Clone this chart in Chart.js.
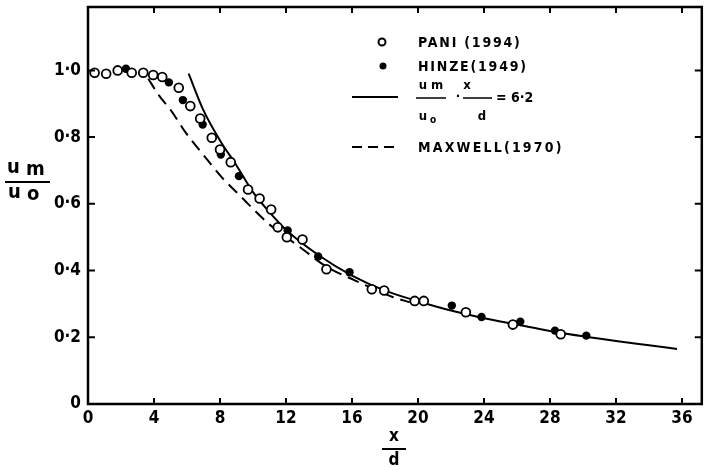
<!DOCTYPE html>
<html>
<head>
<meta charset="utf-8">
<script src="https://cdn.jsdelivr.net/npm/chart.js@4.4.1/dist/chart.umd.min.js"></script>
<style>
  body { margin: 0; background: #fff; }
  #wrap { width: 708px; height: 470px; }
</style>
</head>
<body>
<div id="wrap"><canvas id="myChart" width="708" height="470"></canvas></div>
<script>
var paniX = [0.4, 1.1, 1.8, 2.65, 3.35, 3.95, 4.5, 5.5, 6.2, 6.8, 7.5, 8.0, 8.65, 9.7, 10.4, 11.1, 11.5, 12.05, 13.0, 14.45, 17.2, 17.95, 19.8, 20.35, 22.9, 25.75, 28.65];
var paniY = [0.993, 0.99, 1.0, 0.993, 0.993, 0.986, 0.98, 0.948, 0.893, 0.856, 0.798, 0.763, 0.725, 0.643, 0.616, 0.583, 0.53, 0.5, 0.493, 0.404, 0.344, 0.34, 0.309, 0.309, 0.275, 0.238, 0.209];
var hinzeX = [2.3, 4.9, 5.75, 6.95, 8.05, 9.15, 12.1, 13.95, 15.85, 22.05, 23.85, 26.2, 28.3, 30.2];
var hinzeY = [1.005, 0.964, 0.911, 0.838, 0.748, 0.683, 0.52, 0.442, 0.395, 0.295, 0.261, 0.247, 0.22, 0.205];
var fitX = [6.1, 7, 8, 9, 10, 11, 12, 14, 16, 18, 20, 22, 24, 26, 28, 30, 32, 34, 35.7];
var fitY = [0.99, 0.88, 0.79, 0.715, 0.635, 0.575, 0.522, 0.445, 0.385, 0.34, 0.308, 0.28, 0.257, 0.238, 0.219, 0.203, 0.189, 0.176, 0.165];
var maxX = [3.65, 4.3, 5.1, 5.9, 7.1, 8.1, 9.2, 10.0, 10.95, 12.85, 14.5, 16.2, 17.3, 18.5, 19.5];
var maxY = [0.975, 0.925, 0.875, 0.815, 0.74, 0.68, 0.625, 0.585, 0.54, 0.47, 0.41, 0.37, 0.345, 0.32, 0.305];

var xTicks = [0, 4, 8, 12, 16, 20, 24, 28, 32, 36];
var yTicks = [0, 0.2, 0.4, 0.6, 0.8, 1.0];
var yTickLabels = ["0", "0·2", "0·4", "0·6", "0·8", "1·0"];

var FONT = '"DejaVu Sans Condensed", "DejaVu Sans", sans-serif';

function pts(xs, ys) {
  return xs.map(function (x, i) { return { x: x, y: ys[i] }; });
}

function bold(size) { return "bold " + size + "px " + FONT; }

// frame, inner ticks, legend and axis titles
var decor = {
  id: "decor",
  afterDatasetsDraw: function (chart) {
    var ctx = chart.ctx;
    var a = chart.chartArea;
    var xs = chart.scales.x, ys = chart.scales.y;
    ctx.save();
    ctx.strokeStyle = "#000";
    ctx.fillStyle = "#000";
    ctx.lineWidth = 2.5;
    ctx.strokeRect(a.left, a.top, a.right - a.left, a.bottom - a.top);

    ctx.lineWidth = 2;
    xTicks.forEach(function (v) {
      if (v == 0) return;
      var px = xs.getPixelForValue(v);
      ctx.beginPath();
      ctx.moveTo(px, a.bottom); ctx.lineTo(px, a.bottom - 6);
      ctx.moveTo(px, a.top); ctx.lineTo(px, a.top + 6);
      ctx.stroke();
    });
    yTicks.forEach(function (v) {
      if (v == 0) return;
      var py = ys.getPixelForValue(v);
      ctx.beginPath();
      ctx.moveTo(a.left, py); ctx.lineTo(a.left + 7, py);
      ctx.moveTo(a.right, py); ctx.lineTo(a.right - 7, py);
      ctx.stroke();
    });

    // legend
    var lx = 352, tx = 418;
    ctx.textBaseline = "middle";
    ctx.textAlign = "left";
    ctx.font = bold(14);
    ctx.letterSpacing = "1.8px";

    ctx.beginPath();
    ctx.lineWidth = 2;
    ctx.fillStyle = "#fff";
    ctx.arc(382, 42, 3.5, 0, Math.PI * 2);
    ctx.fill(); ctx.stroke();
    ctx.fillStyle = "#000";
    ctx.fillText("PANI (1994)", tx, 43);

    ctx.beginPath();
    ctx.arc(383, 66, 3.5, 0, Math.PI * 2);
    ctx.fill();
    ctx.fillText("HINZE(1949)", tx, 67);
    ctx.letterSpacing = "0px";

    ctx.beginPath();
    ctx.moveTo(lx, 97); ctx.lineTo(398, 97);
    ctx.stroke();
    ctx.textAlign = "center";
    ctx.font = bold(13);
    ctx.fillText("u m", 431, 86);
    ctx.fillText("u", 423, 117);
    ctx.font = bold(10);
    ctx.fillText("o", 433, 120);
    ctx.font = bold(13);
    ctx.fillText("·", 458, 97);
    ctx.fillText("x", 467, 86);
    ctx.fillText("d", 482, 117);
    ctx.lineWidth = 1.5;
    ctx.beginPath();
    ctx.moveTo(416, 98); ctx.lineTo(446, 98);
    ctx.moveTo(463, 98); ctx.lineTo(492, 98);
    ctx.stroke();
    ctx.textAlign = "left";
    ctx.font = bold(14);
    ctx.fillText("= 6·2", 496, 98);

    ctx.lineWidth = 2;
    ctx.setLineDash([10, 6]);
    ctx.beginPath();
    ctx.moveTo(lx, 147); ctx.lineTo(398, 147);
    ctx.stroke();
    ctx.setLineDash([]);
    ctx.letterSpacing = "2.2px";
    ctx.fillText("MAXWELL(1970)", tx, 148);
    ctx.letterSpacing = "0px";

    // y title
    ctx.font = bold(20);
    ctx.textAlign = "left";
    ctx.fillText("u", 7, 168);
    ctx.fillText("m", 26, 170);
    ctx.fillText("u", 8, 193);
    ctx.fillText("o", 27, 195);
    ctx.lineWidth = 2;
    ctx.beginPath();
    ctx.moveTo(5, 182); ctx.lineTo(50, 182);
    ctx.stroke();

    // x title
    ctx.textAlign = "center";
    ctx.font = bold(17);
    ctx.fillText("x", 394, 437);
    ctx.fillText("d", 394, 461);
    ctx.beginPath();
    ctx.moveTo(382, 449); ctx.lineTo(406, 449);
    ctx.stroke();
    ctx.restore();
  }
};

new Chart("myChart", {
  type: "scatter",
  data: {
    datasets: [{
      label: "PANI (1994)",
      data: pts(paniX, paniY),
      pointStyle: "circle",
      pointRadius: 4.4,
      backgroundColor: "#fff",
      borderColor: "#000",
      borderWidth: 1.8,
      order: 1
    }, {
      label: "HINZE(1949)",
      data: pts(hinzeX, hinzeY),
      pointRadius: 4.2,
      backgroundColor: "#000",
      borderColor: "#000",
      borderWidth: 0,
      order: 1
    }, {
      label: "fit",
      data: pts(fitX, fitY),
      showLine: true,
      pointRadius: 0,
      borderColor: "#000",
      borderWidth: 2,
      cubicInterpolationMode: "monotone",
      order: 2
    }, {
      label: "MAXWELL (1970)",
      data: pts(maxX, maxY),
      showLine: true,
      pointRadius: 0,
      borderColor: "#000",
      borderWidth: 2,
      borderDash: [12, 7],
      cubicInterpolationMode: "monotone",
      order: 2
    }]
  },
  options: {
    responsive: false,
    animation: false,
    layout: { padding: { left: 0, right: 6, top: 7, bottom: 0 } },
    plugins: { legend: { display: false }, tooltip: { enabled: false } },
    scales: {
      x: {
        type: "linear",
        min: 0,
        max: 37.2,
        grid: { display: false, drawTicks: false },
        border: { display: false },
        afterBuildTicks: function (s) { s.ticks = xTicks.map(function (v) { return { value: v }; }); },
        afterFit: function (s) { s.height = 66; s.paddingLeft = 0; s.paddingRight = 0; },
        ticks: { color: "#000", padding: 4, font: { family: FONT, size: 17, weight: "bold" } }
      },
      y: {
        min: 0,
        max: 1.19,
        grid: { display: false, drawTicks: false },
        border: { display: false },
        afterBuildTicks: function (s) { s.ticks = yTicks.map(function (v) { return { value: v }; }); },
        afterFit: function (s) { s.width = 88; s.paddingTop = 0; s.paddingBottom = 0; },
        ticks: {
          color: "#000",
          padding: 7,
          font: { family: FONT, size: 17, weight: "bold" },
          callback: function (v, i) { return yTickLabels[i]; }
        }
      }
    }
  },
  plugins: [decor]
});
</script>
</body>
</html>
